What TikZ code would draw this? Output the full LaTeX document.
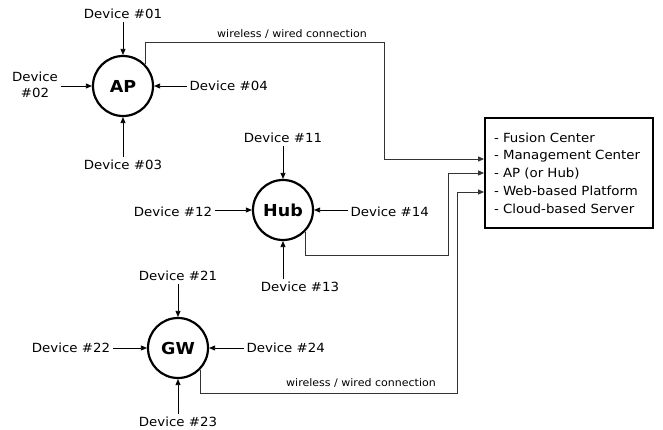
\documentclass[tikz,border=0pt]{standalone}
\usepackage{fontspec}
\setmainfont{DejaVu Sans}[FakeStretch=1.06]
\usetikzlibrary{arrows.meta}
\begin{document}
\begin{tikzpicture}[x=1pt,y=-1pt,
 hubnode/.style={circle,draw,line width=2.2pt,minimum size=60pt,inner sep=0pt,font=\fontsize{16.5}{18}\selectfont\bfseries},
 dev/.style={font=\fontsize{12.6}{16.5}\selectfont,inner sep=2.5pt},
 arr/.style={-{Triangle[length=6pt,width=5pt]},line width=0.8pt},
 conn/.style={line width=0.9pt,draw=black!80},
 lbl/.style={font=\fontsize{10.4}{12}\selectfont,inner sep=1pt}
]
\useasboundingbox (0,0) rectangle (663,430);
% central nodes
\node[hubnode] (ap) at (123,86) {AP};
\node[hubnode] (hub) at (283,210) {Hub};
\node[hubnode] (gw) at (178,348) {GW};
% server box
\node[draw,line width=1.8pt,minimum height=110pt,inner xsep=9pt,text width=150pt,align=left,
      font=\fontsize{12.6}{17.7}\selectfont] (srv) at (569,173)
 {- Fusion Center\\- Management Center\\- AP (or Hub)\\- Web-based Platform\\- Cloud-based Server};
% AP devices
\node[dev] (d01) at (123,14) {Device \#01};
\node[dev,align=center] (d02) at (35,85) {Device\\\#02};
\node[dev] (d03) at (123,165) {Device \#03};
\node[dev,anchor=west] (d04) at (187,86) {Device \#04};
\draw[arr] (d01.south) -- (ap.north);
\draw[arr] (d02.east |- ap.west) -- (ap.west);
\draw[arr] (d03.north) -- (ap.south);
\draw[arr] (d04.west) -- (ap.east);
% Hub devices
\node[dev] (d11) at (283,138) {Device \#11};
\node[dev] (d12) at (173,212) {Device \#12};
\node[dev] (d13) at (300,287) {Device \#13};
\node[dev,anchor=west] (d14) at (348,212) {Device \#14};
\draw[arr] (d11.south) -- (hub.north);
\draw[arr] (d12.east |- hub.west) -- (hub.west);
\draw[arr] (d13.north -| hub.south) -- (hub.south);
\draw[arr] (d14.west |- hub.east) -- (hub.east);
% GW devices
\node[dev] (d21) at (178,276) {Device \#21};
\node[dev] (d22) at (71,348) {Device \#22};
\node[dev] (d23) at (178,422) {Device \#23};
\node[dev,anchor=west] (d24) at (244,348) {Device \#24};
\draw[arr] (d21.south) -- (gw.north);
\draw[arr] (d22.east) -- (gw.west);
\draw[arr] (d23.north) -- (gw.south);
\draw[arr] (d24.west) -- (gw.east);
% connections
\coordinate (c1) at (384,42);
\coordinate (c2) at (448,255);
\coordinate (c3) at (457,393);
\draw[conn,arr] (ap.45) |- (c1) |- (srv.west |- 0,159);
\draw[conn,arr] (hub.-45) |- (c2) |- (srv.west);
\draw[conn,arr] (gw.-45) |- (c3) |- (srv.west |- 0,192);
\node[lbl] (w1) at (292,34) {wireless / wired connection};
\node[lbl] (w2) at (361,383) {wireless / wired connection};
\end{tikzpicture}
\end{document}
